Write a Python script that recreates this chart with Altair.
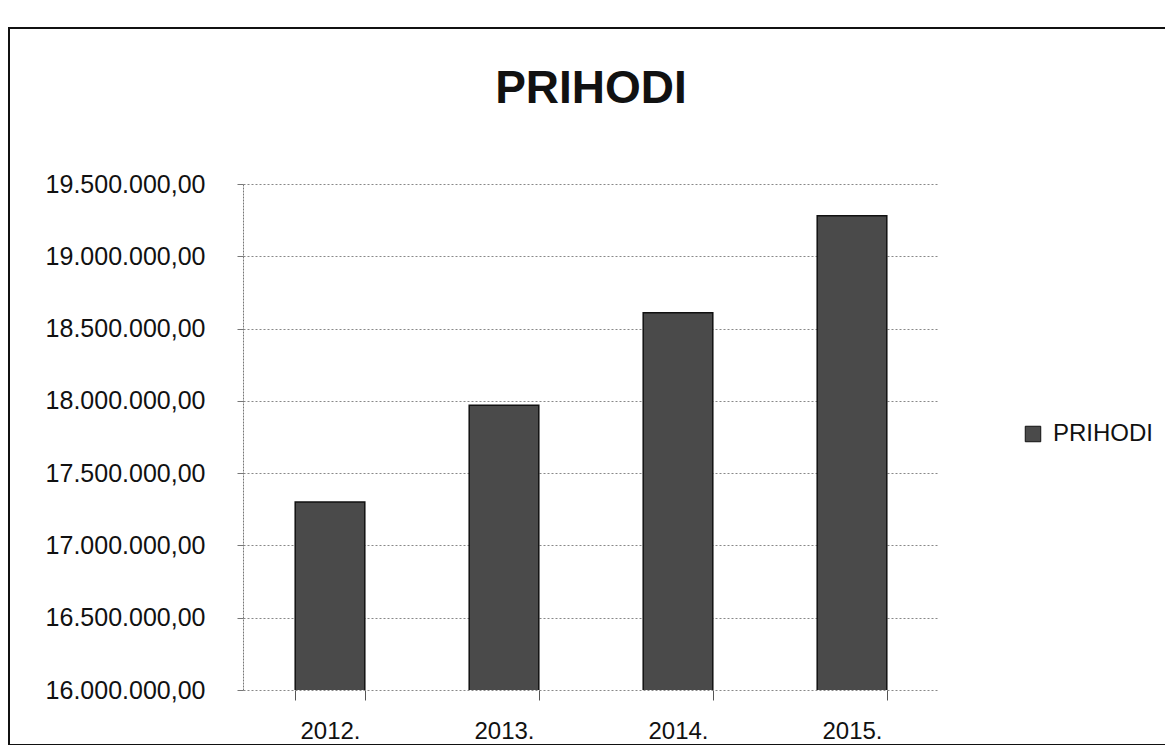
import altair as alt
import pandas as pd

years = ["2012.", "2013.", "2014.", "2015."]
values = [17300000, 17970000, 18610000, 19280000]
series = ["PRIHODI", "PRIHODI", "PRIHODI", "PRIHODI"]
y_ticks = [16000000, 16500000, 17000000, 17500000, 18000000, 18500000, 19000000, 19500000]

df = pd.DataFrame({"year": years, "value": values, "series": series})

FONT = "Liberation Sans, Arial, sans-serif"

label_expr = ("replace(replace(replace(format(datum.value, ',.2f'), regexp(',', 'g'), '#'), "
              "regexp('[.]', 'g'), ','), regexp('#', 'g'), '.')")

base = alt.Chart(df)

bars = base.mark_bar(stroke="#111111", strokeWidth=1.5, clip=True).encode(
    x=alt.X("year:N", sort=years,
            scale=alt.Scale(paddingInner=0.6, paddingOuter=0.3),
            axis=alt.Axis(title=None, labelAngle=0, labelFont=FONT, labelFontSize=24,
                          labelColor="#111111", labelPadding=19, tickBand="extent",
                          tickSize=10, tickColor="#555555", domain=False, grid=False,
                          labelLimit=0)),
    y=alt.Y("value:Q",
            scale=alt.Scale(domain=[16000000, 19500000], nice=False, zero=False),
            axis=alt.Axis(title=None, values=y_ticks, labelExpr=label_expr, labelFont=FONT,
                          labelFontSize=25, labelColor="#111111", labelPadding=32,
                          labelLimit=0,
                          tickSize=6, tickColor="#777777", domainColor="#777777",
                          domainDash=[2, 1], gridColor="#888888", gridDash=[2, 2],
                          gridWidth=1)),
    color=alt.Color("series:N", scale=alt.Scale(range=["#4a4a4a"]),
                    legend=alt.Legend(title=None, orient="none", legendX=778, legendY=238,
                                      symbolType="square", symbolSize=240,
                                      symbolStrokeColor="#111111", symbolStrokeWidth=1,
                                      labelFont=FONT, labelFontSize=24, labelColor="#111111",
                                      labelOffset=8, labelLimit=0)),
)

frame = alt.Chart(pd.DataFrame({"a": [0]})).mark_rect(
    fill=None, stroke="#111111", strokeWidth=2, clip=False
).encode(x=alt.value(-234), x2=alt.value(960), y=alt.value(-156), y2=alt.value(561))

chart = alt.layer(frame, bars).properties(
    width=696, height=506,
    autosize=alt.AutoSizeParams(type="none"),
    padding={"left": 235, "top": 176, "right": 226, "bottom": 55},
    title=alt.TitleParams("PRIHODI", font=FONT, fontSize=46, fontWeight="bold",
                          color="#111111", anchor="middle", offset=-86),
).configure(background="white", view=alt.ViewConfig(stroke=None))

chart.save("out.html", embed_options={"renderer": "svg", "actions": False})
